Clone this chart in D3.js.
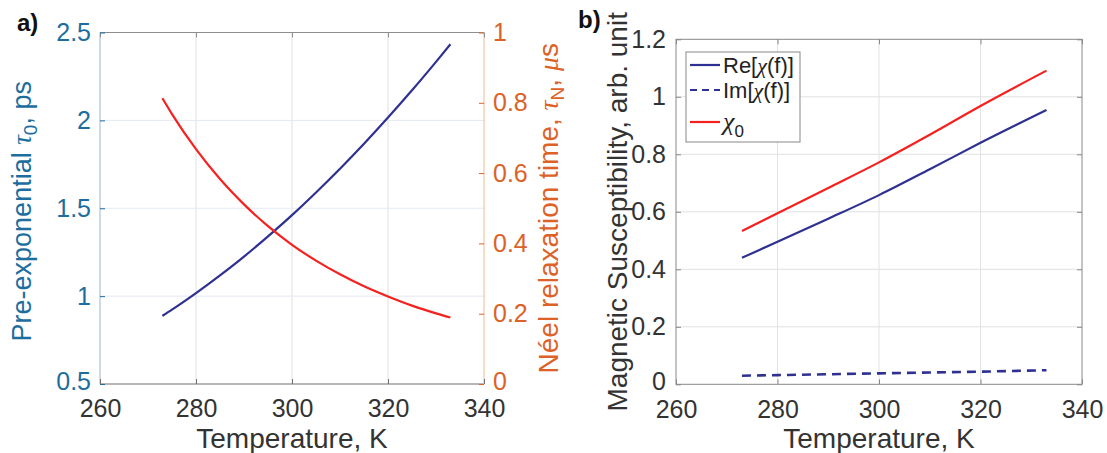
<!DOCTYPE html>
<html lang="en">
<head>
  <meta charset="UTF-8">
  <title>Relaxation times and susceptibility vs temperature</title>
  <script src="https://d3js.org/d3.v7.min.js"></script>
  <style>
    body { margin: 0; background: #fff; }
    text { font-family: "Liberation Sans", Arial, Helvetica, sans-serif; }
  </style>
</head>
<body>
  <div id="chart"></div>

  <script>
    // Panel a data (temperature in K)
    const tempA = [273, 275, 280, 285, 290, 295, 300, 305, 310, 315, 320, 325, 330, 333];
    const tau0 = [0.888, 0.923, 1.017, 1.118, 1.225, 1.340, 1.461, 1.590, 1.725, 1.867, 2.016, 2.171, 2.333, 2.433];
    const tauN = [0.813, 0.768, 0.668, 0.583, 0.511, 0.449, 0.396, 0.351, 0.312, 0.278, 0.249, 0.223, 0.201, 0.189];

    // Panel b data
    const tempB = [273, 280, 290, 300, 310, 320, 333];
    const reChi = [0.440, 0.496, 0.576, 0.658, 0.748, 0.840, 0.954];
    const imChi = [0.030, 0.032, 0.035, 0.038, 0.041, 0.044, 0.049];
    const chi0 = [0.533, 0.595, 0.683, 0.772, 0.868, 0.968, 1.091];

    // Tick values
    const xTicks = [260, 280, 300, 320, 340];
    const tau0Ticks = [0.5, 1, 1.5, 2, 2.5];
    const tauNTicks = [0, 0.2, 0.4, 0.6, 0.8, 1];
    const chiTicks = [0, 0.2, 0.4, 0.6, 0.8, 1, 1.2];

    const blueAxis = "#1d6e9e";
    const orangeAxis = "#dc6228";
    const tickText = "#333333";
    const lineBlue = "#2e3192";
    const lineRed = "#f5211f";
    const tickSize = 25;

    const svg = d3.select("#chart").append("svg")
      .attr("width", 1107)
      .attr("height", 453);

    // Scales
    const xA = d3.scaleLinear().domain([260, 340]).range([100, 484]);
    const yL = d3.scaleLinear().domain([0.5, 2.5]).range([384, 32.5]);
    const yR = d3.scaleLinear().domain([0, 1]).range([384, 32.5]);

    const xB = d3.scaleLinear().domain([260, 340]).range([676, 1082]);
    const yB = d3.scaleLinear().domain([0, 1.2]).range([384.3, 39.3]);

    // Helper to style an axis group
    function styleAxis(g, color) {
      g.select(".domain").remove();
      g.selectAll(".tick line").attr("stroke", color);
      g.selectAll(".tick text")
        .attr("font-size", tickSize)
        .attr("font-family", "'Liberation Sans', Arial, sans-serif");
    }

    // lift the bottom y label a little so it clears the x labels
    function liftBottom(g, bottom) {
      g.selectAll(".tick text").filter(d => d === bottom).attr("dy", "0.2em");
    }

    // ---------- Panel a ----------
    // Grid lines
    svg.append("g").selectAll("line")
      .data(xTicks.slice(1, -1))
      .enter().append("line")
        .attr("x1", d => xA(d)).attr("x2", d => xA(d))
        .attr("y1", yL(2.5)).attr("y2", yL(0.5))
        .attr("stroke", "#e0e0e6");
    svg.append("g").selectAll("line")
      .data(tau0Ticks.slice(1, -1))
      .enter().append("line")
        .attr("x1", xA(260)).attr("x2", xA(340))
        .attr("y1", d => yL(d)).attr("y2", d => yL(d))
        .attr("stroke", "#e3e9f2");

    // Frame
    svg.append("line").attr("x1", xA(260)).attr("x2", xA(340)).attr("y1", yL(2.5)).attr("y2", yL(2.5)).attr("stroke", "#8e8e8e");
    svg.append("line").attr("x1", xA(260)).attr("x2", xA(340)).attr("y1", yL(0.5)).attr("y2", yL(0.5)).attr("stroke", "#6f6f6f");
    svg.append("line").attr("x1", xA(260)).attr("x2", xA(260)).attr("y1", yL(2.5)).attr("y2", yL(0.5)).attr("stroke", "#9fb3c6");
    svg.append("line").attr("x1", xA(340)).attr("x2", xA(340)).attr("y1", yL(2.5)).attr("y2", yL(0.5)).attr("stroke", "#f2b995");

    // Axes
    svg.append("g")
      .attr("transform", `translate(0,${yL(0.5)})`)
      .call(d3.axisBottom(xA).tickValues(xTicks).tickSize(-5).tickPadding(15.5))
      .call(g => styleAxis(g, "#6f6f6f"))
      .selectAll(".tick text").attr("fill", tickText);
    svg.append("g")
      .attr("transform", `translate(0,${yL(2.5)})`)
      .call(d3.axisTop(xA).tickValues(xTicks).tickSize(-5).tickFormat(""))
      .call(g => styleAxis(g, "#8e8e8e"));
    svg.append("g")
      .attr("transform", `translate(${xA(260)},0)`)
      .call(d3.axisLeft(yL).tickValues(tau0Ticks).tickSize(-5).tickPadding(9).tickFormat(d3.format("~g")))
      .call(g => styleAxis(g, blueAxis))
      .call(g => liftBottom(g, 0.5))
      .selectAll(".tick text").attr("fill", blueAxis);
    svg.append("g")
      .attr("transform", `translate(${xA(340)},0)`)
      .call(d3.axisRight(yR).tickValues(tauNTicks).tickSize(-5).tickPadding(9).tickFormat(d3.format("~g")))
      .call(g => styleAxis(g, orangeAxis))
      .call(g => liftBottom(g, 0))
      .selectAll(".tick text").attr("fill", orangeAxis);

    // Curves
    const lineTau0 = d3.line().x((d, i) => xA(tempA[i])).y(d => yL(d)).curve(d3.curveMonotoneX);
    const lineTauN = d3.line().x((d, i) => xA(tempA[i])).y(d => yR(d)).curve(d3.curveMonotoneX);
    svg.append("path").datum(tau0).attr("d", lineTau0)
      .attr("fill", "none").attr("stroke", lineBlue).attr("stroke-width", 2.2);
    svg.append("path").datum(tauN).attr("d", lineTauN)
      .attr("fill", "none").attr("stroke", lineRed).attr("stroke-width", 2.2);

    // Titles
    svg.append("text")
      .attr("x", (xA(260) + xA(340)) / 2).attr("y", 448)
      .attr("text-anchor", "middle").attr("font-size", 28).attr("fill", tickText)
      .text("Temperature, K");

    const leftTitle = svg.append("text")
      .attr("transform", `translate(31,${(yL(0.5) + yL(2.5)) / 2 + 3}) rotate(-90)`)
      .attr("text-anchor", "middle").attr("font-size", 27).attr("fill", blueAxis);
    leftTitle.append("tspan").text("Pre-exponential ");
    leftTitle.append("tspan").attr("font-family", "'Liberation Serif', serif").attr("font-style", "italic").text("τ");
    leftTitle.append("tspan").attr("font-size", 19).attr("dy", 6).text("0");
    leftTitle.append("tspan").attr("dy", -6).text(", ps");

    const rightTitle = svg.append("text")
      .attr("transform", `translate(558,${(yR(0) + yR(1)) / 2}) rotate(-90)`)
      .attr("text-anchor", "middle").attr("font-size", 28).attr("fill", orangeAxis);
    rightTitle.append("tspan").text("Néel relaxation time, ");
    rightTitle.append("tspan").attr("font-family", "'Liberation Serif', serif").attr("font-style", "italic").text("τ");
    rightTitle.append("tspan").attr("font-size", 19).attr("dy", 6).text("N");
    rightTitle.append("tspan").attr("dy", -6).text(", ");
    rightTitle.append("tspan").attr("font-family", "'Liberation Serif', serif").attr("font-style", "italic").text("μ");
    rightTitle.append("tspan").text("s");

    svg.append("text")
      .attr("x", 17).attr("y", 31)
      .attr("font-family", "'Liberation Serif', serif").attr("font-weight", "bold")
      .attr("font-size", 24).attr("fill", "#111")
      .text("a)");

    // ---------- Panel b ----------
    svg.append("g").selectAll("line")
      .data(xTicks.slice(1, -1))
      .enter().append("line")
        .attr("x1", d => xB(d)).attr("x2", d => xB(d))
        .attr("y1", yB(1.2)).attr("y2", yB(0))
        .attr("stroke", "#e2e2e2");
    svg.append("g").selectAll("line")
      .data(chiTicks.slice(1, -1))
      .enter().append("line")
        .attr("x1", xB(260)).attr("x2", xB(340))
        .attr("y1", d => yB(d)).attr("y2", d => yB(d))
        .attr("stroke", "#e2e2e2");

    svg.append("rect")
      .attr("x", xB(260)).attr("y", yB(1.2))
      .attr("width", xB(340) - xB(260)).attr("height", yB(0) - yB(1.2))
      .attr("fill", "none").attr("stroke", "#8a8686");

    svg.append("g")
      .attr("transform", `translate(0,${yB(0)})`)
      .call(d3.axisBottom(xB).tickValues(xTicks).tickSize(-5).tickPadding(15.5))
      .call(g => styleAxis(g, "#8a8686"))
      .selectAll(".tick text").attr("fill", tickText);
    svg.append("g")
      .attr("transform", `translate(0,${yB(1.2)})`)
      .call(d3.axisTop(xB).tickValues(xTicks).tickSize(-5).tickFormat(""))
      .call(g => styleAxis(g, "#8a8686"));
    svg.append("g")
      .attr("transform", `translate(${xB(260)},0)`)
      .call(d3.axisLeft(yB).tickValues(chiTicks).tickSize(-5).tickPadding(10).tickFormat(d3.format("~g")))
      .call(g => styleAxis(g, "#8a8686"))
      .call(g => liftBottom(g, 0))
      .selectAll(".tick text").attr("fill", tickText);
    svg.append("g")
      .attr("transform", `translate(${xB(340)},0)`)
      .call(d3.axisRight(yB).tickValues(chiTicks).tickSize(-5).tickFormat(""))
      .call(g => styleAxis(g, "#8a8686"));

    const lineB = d3.line().x((d, i) => xB(tempB[i])).y(d => yB(d)).curve(d3.curveMonotoneX);
    svg.append("path").datum(reChi).attr("d", lineB)
      .attr("fill", "none").attr("stroke", lineBlue).attr("stroke-width", 2.2);
    svg.append("path").datum(imChi).attr("d", lineB)
      .attr("fill", "none").attr("stroke", lineBlue).attr("stroke-width", 2.6)
      .attr("stroke-dasharray", "9,6");
    svg.append("path").datum(chi0).attr("d", lineB)
      .attr("fill", "none").attr("stroke", lineRed).attr("stroke-width", 2.2);

    svg.append("text")
      .attr("x", (xB(260) + xB(340)) / 2).attr("y", 448)
      .attr("text-anchor", "middle").attr("font-size", 28).attr("fill", tickText)
      .text("Temperature, K");

    svg.append("text")
      .attr("transform", `translate(627,${(yB(0) + yB(1.2)) / 2}) rotate(-90)`)
      .attr("text-anchor", "middle").attr("font-size", 28).attr("fill", tickText)
      .text("Magnetic Susceptibility, arb. unit");

    svg.append("text")
      .attr("x", 578).attr("y", 28)
      .attr("font-family", "'Liberation Serif', serif").attr("font-weight", "bold")
      .attr("font-size", 24).attr("fill", "#111")
      .text("b)");

    // Legend
    const legend = svg.append("g");
    legend.append("rect")
      .attr("x", 686).attr("y", 52).attr("width", 114).attr("height", 90)
      .attr("fill", "#fff").attr("stroke", "#8a8686");

    const legendItems = [
      { label: "Re", color: lineBlue, dash: null, y: 65 },
      { label: "Im", color: lineBlue, dash: "7,5", y: 90 },
      { label: "chi0", color: lineRed, dash: null, y: 122 }
    ];
    legendItems.forEach(item => {
      legend.append("line")
        .attr("x1", 690).attr("x2", 720).attr("y1", item.y).attr("y2", item.y)
        .attr("stroke", item.color).attr("stroke-width", 2.2)
        .attr("stroke-dasharray", item.dash);
      const t = legend.append("text")
        .attr("x", 723).attr("y", item.y + 8)
        .attr("font-size", 22).attr("fill", "#222");
      if (item.label === "chi0") {
        t.append("tspan").attr("font-family", "'Liberation Serif', serif").attr("font-style", "italic").attr("font-size", 26).text("χ");
        t.append("tspan").attr("font-size", 17).attr("dy", 7).text("0");
      } else {
        t.append("tspan").text(item.label + "[");
        t.append("tspan").attr("font-family", "'Liberation Serif', serif").attr("font-style", "italic").text("χ");
        t.append("tspan").text("(f)]");
      }
    });
  </script>
</body>
</html>
